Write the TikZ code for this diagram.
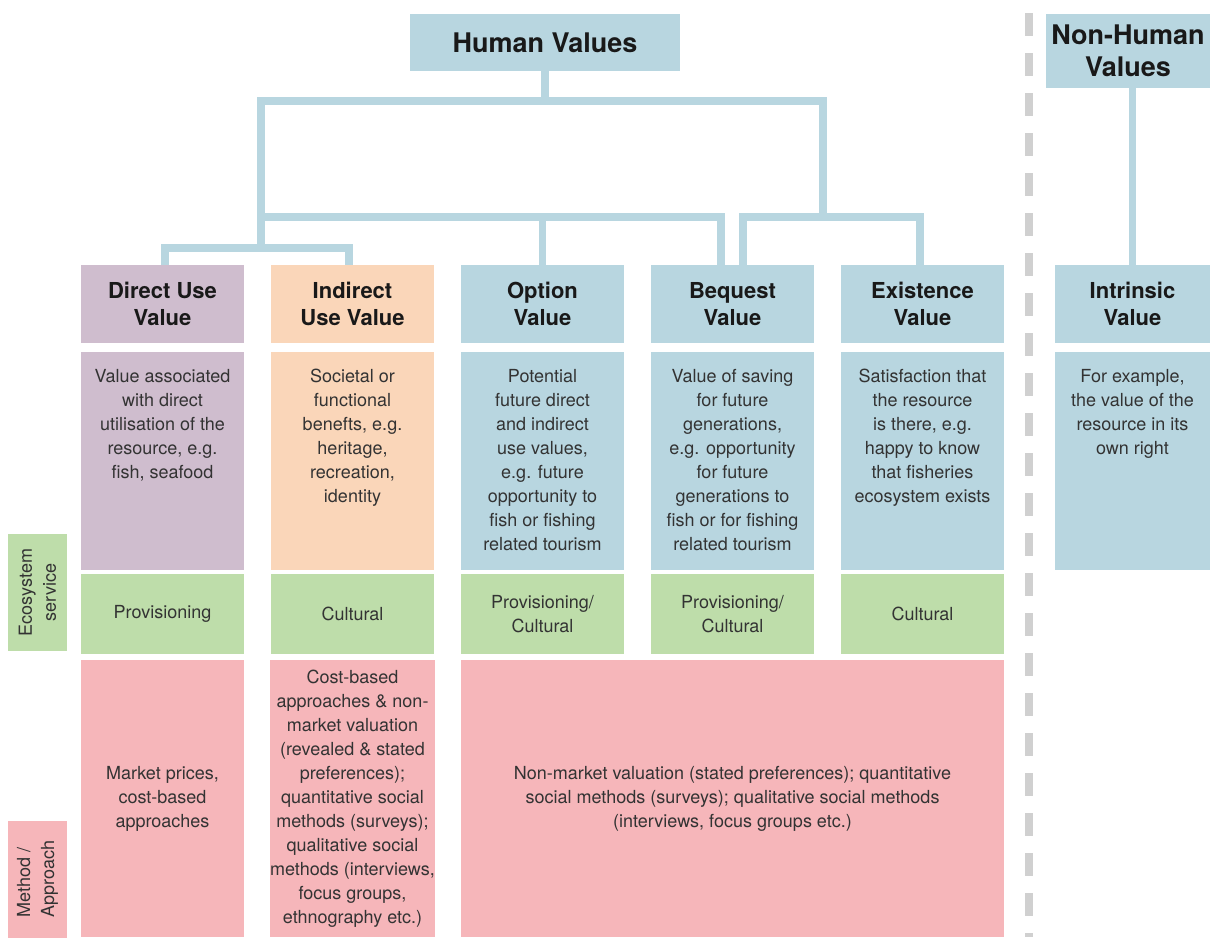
\documentclass[tikz,border=0pt]{standalone}
\usepackage{fontspec}
\setmainfont{TeX Gyre Heros}
\usetikzlibrary{positioning}
\definecolor{lilac}{HTML}{CFBDCE}
\definecolor{peach}{HTML}{FAD6B9}
\definecolor{paleblue}{HTML}{B8D6E0}
\definecolor{leaf}{HTML}{BEDDAA}
\definecolor{rose}{HTML}{F6B6BA}
\definecolor{divgrey}{HTML}{D0D0D0}

\begin{document}
\begin{tikzpicture}[
  x=0.5pt, y=-0.5pt,
  cellbox/.style={inner sep=0pt, outer sep=0pt, minimum width=81.5pt, align=center},
  headbox/.style={cellbox, fill=paleblue, font=\bfseries\fontsize{13.5}{16}\selectfont, text=black!90},
  titlebox/.style={cellbox, minimum height=39pt, font=\bfseries\fontsize{11}{13.5}\selectfont, text=black!90},
  descbox/.style={cellbox, minimum height=109pt},
  desctext/.style={inner sep=0pt, align=center, font=\fontsize{9}{12}\selectfont, text=black!80},
  svcbox/.style={cellbox, minimum height=40pt, fill=leaf, font=\fontsize{9}{12}\selectfont, text=black!80},
  methbox/.style={cellbox, minimum height=138.5pt, fill=rose, font=\fontsize{9}{12}\selectfont, text=black!80},
  sidebox/.style={inner sep=0pt, outer sep=0pt, minimum width=58.5pt, minimum height=29.5pt,
    rotate=90, font=\fontsize{9}{12}\selectfont, text=black!80},
  linkline/.style={draw=paleblue, line width=3.75pt, line join=miter},
  divider/.style={draw=divgrey, line width=4pt, dash pattern=on 11.5pt off 8.5pt}
]
  \useasboundingbox (0,0) rectangle (1210,937);

  \node[headbox, minimum width=135pt, minimum height=28.5pt] (hv) at (545,42.5) {Human Values};
  \node[headbox, minimum width=82pt, minimum height=37pt] (nhv) at (1128,51) {Non-Human\\Values};

  \node[titlebox, fill=lilac] (dv) at (162.5,304) {Direct Use\\Value};
  \node[titlebox, fill=peach, right=13.5pt of dv] (iv) {Indirect\\Use Value};
  \node[titlebox, fill=paleblue, right=13.5pt of iv] (ov) {Option\\Value};
  \node[titlebox, fill=paleblue, right=13.5pt of ov] (bv) {Bequest\\Value};
  \node[titlebox, fill=paleblue, right=13.5pt of bv] (ev) {Existence\\Value};
  \node[titlebox, fill=paleblue, minimum width=77.5pt] (inv) at (1132.5,304) {Intrinsic\\Value};

  \node[descbox, fill=lilac, below=4.5pt of dv] (dvd) {};
  \node[descbox, fill=peach, below=4.5pt of iv] (ivd) {};
  \node[descbox, fill=paleblue, below=4.5pt of ov] (ovd) {};
  \node[descbox, fill=paleblue, below=4.5pt of bv] (bvd) {};
  \node[descbox, fill=paleblue, below=4.5pt of ev] (evd) {};
  \node[descbox, fill=paleblue, minimum width=77.5pt, below=4.5pt of inv] (invd) {};

  \node[desctext, below=8.5pt of dvd.north] (dvdt)
    {Value associated\\with direct\\utilisation of the\\resource, e.g.\\fish, seafood};
  \node[desctext, below=8.5pt of ivd.north] (ivdt)
    {Societal or\\functional\\benefts, e.g.\\heritage,\\recreation,\\identity};
  \node[desctext, below=8.5pt of ovd.north] (ovdt)
    {Potential\\future direct\\and indirect\\use values,\\e.g. future\\opportunity to\\fish or fishing\\related tourism};
  \node[desctext, below=8.5pt of bvd.north] (bvdt)
    {Value of saving\\for future\\generations,\\e.g. opportunity\\for future\\generations to\\fish or for fishing\\related tourism};
  \node[desctext, below=8.5pt of evd.north] (evdt)
    {Satisfaction that\\the resource\\is there, e.g.\\happy to know\\that fisheries\\ecosystem exists};
  \node[desctext, below=8.5pt of invd.north] (invdt)
    {For example,\\the value of the\\resource in its\\own right};

  \node[svcbox, below=2pt of dvd] (dve) {Provisioning};
  \node[svcbox, below=2pt of ivd] (ive) {Cultural};
  \node[svcbox, below=2pt of ovd] (ove) {Provisioning/\\Cultural};
  \node[svcbox, below=2pt of bvd] (bve) {Provisioning/\\Cultural};
  \node[svcbox, below=2pt of evd] (eve) {Cultural};

  \node[methbox, below=3pt of dve] (dvm) {Market prices,\\cost-based\\approaches};
  \node[methbox, below=3pt of ive] (ivm)
    {Cost-based\\approaches \& non-\\market valuation\\(revealed \& stated\\preferences);\\quantitative social\\methods (surveys);\\qualitative social\\methods (interviews,\\focus groups,\\ethnography etc.)};
  \node[methbox, minimum width=271.5pt, below=3pt of bve] (bvm)
    {Non-market valuation (stated preferences); quantitative\\social methods (surveys); qualitative social methods\\(interviews, focus groups etc.)};

  \node[sidebox, fill=leaf, align=center] (esl) at (37.5,592.5) {Ecosystem\\service};
  \node[sidebox, fill=rose, align=left] (mal) at (37.5,879) {Method /\\Approach};

  \coordinate (hl) at (261,101);
  \coordinate (hr) at (823,101);
  \coordinate (al) at (261,217);
  \coordinate (ar) at (721,217);
  \coordinate (bl) at (743,217);
  \coordinate (br) at (920,217);
  \coordinate (cl) at (165,248);
  \coordinate (cr) at (349,248);

  \draw[linkline] (hv) -- (hv |- hl);
  \draw[linkline] (cl -| hl) -- (hl) -- (hr) -- (hr |- ar);
  \draw[linkline] (al) -- (ar) -- (ar |- bv.north);
  \draw[linkline] (ov |- al) -- (ov);
  \draw[linkline] (bl |- bv.north) -- (bl) -- (br) -- (br |- ev.north);
  \draw[linkline] (cl |- dv.north) -- (cl) -- (cr) -- (cr |- iv.north);
  \draw[linkline] (inv |- nhv.south) -- (inv);

  \draw[divider] (1029,13) -- (1029,937);
\end{tikzpicture}
\end{document}
